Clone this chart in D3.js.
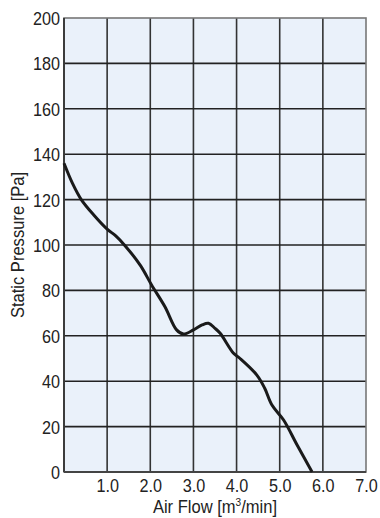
<!DOCTYPE html>
<html>
<head>
<meta charset="utf-8">
<script src="https://cdn.jsdelivr.net/npm/d3@7"></script>
<style>
  body { margin: 0; background: #fff; }
  text { font-family: "Liberation Sans", Arial, sans-serif; fill: #222; }
</style>
</head>
<body>
<svg id="chart"></svg>
<script>
// air flow [m3/min] vs static pressure [Pa]
var flow = [0, 0.2, 0.4, 0.7, 1.0, 1.2, 1.42, 1.77, 2.03, 2.34, 2.61, 2.77, 3.0, 3.2, 3.35, 3.5, 3.62, 3.93, 4.08, 4.47, 4.65, 4.82, 5.09, 5.4, 5.75];
var pressure = [136, 127, 120, 113, 107, 104, 99.6, 91, 82.4, 72.8, 62.6, 60.8, 62.6, 64.8, 65.5, 63.3, 61.1, 52.3, 50, 42.7, 37, 29.5, 22.9, 12, 0];
var xTicks = [1, 2, 3, 4, 5, 6, 7];
var yTicks = [0, 20, 40, 60, 80, 100, 120, 140, 160, 180, 200];

var width = 380, height = 518;
var plot = { left: 64, right: 366, top: 18, bottom: 472 };

var svg = d3.select("#chart").attr("width", width).attr("height", height);

var x = d3.scaleLinear().domain([0, 7]).range([plot.left, plot.right]);
var y = d3.scaleLinear().domain([0, 200]).range([plot.bottom, plot.top]);

//背景
svg.append("rect")
  .attr("x", plot.left).attr("y", plot.top)
  .attr("width", plot.right - plot.left).attr("height", plot.bottom - plot.top)
  .attr("fill", "#eaf1fa");

//网格
var grid = svg.append("g");
grid.selectAll("line.v").data(xTicks.filter(function (d) { return d < 7 })).enter()
  .append("line")
  .attr("x1", function (d) { return x(d) }).attr("x2", function (d) { return x(d) })
  .attr("y1", plot.top).attr("y2", plot.bottom)
  .attr("stroke", "#333").attr("stroke-width", 1.6);
grid.selectAll("line.h").data(yTicks.filter(function (d) { return d > 0 && d < 200 })).enter()
  .append("line")
  .attr("x1", plot.left).attr("x2", plot.right)
  .attr("y1", function (d) { return y(d) }).attr("y2", function (d) { return y(d) })
  .attr("stroke", "#222").attr("stroke-width", 1.6);

//边框
svg.append("rect")
  .attr("x", plot.left).attr("y", plot.top)
  .attr("width", plot.right - plot.left).attr("height", plot.bottom - plot.top)
  .attr("fill", "none").attr("stroke", "#777").attr("stroke-width", 1.6);
svg.append("line").attr("x1", plot.left).attr("x2", plot.left).attr("y1", plot.top).attr("y2", plot.bottom)
  .attr("stroke", "#333").attr("stroke-width", 1.8);
svg.append("line").attr("x1", plot.left).attr("x2", plot.right).attr("y1", plot.bottom).attr("y2", plot.bottom)
  .attr("stroke", "#444").attr("stroke-width", 1.8);

//刻度 (字体横向压缩一点)
var xAxis = d3.axisBottom(x).tickValues(xTicks).tickSize(0).tickPadding(0)
  .tickFormat(d3.format(".1f"));
var gx = svg.append("g").attr("transform", "translate(0," + plot.bottom + ")").call(xAxis);
gx.select(".domain").remove();
gx.selectAll("text").attr("dy", null).attr("y", 20).attr("transform", "scale(0.9,1)")
  .style("font-size", "18px").attr("fill", "#222");

var yAxis = d3.axisLeft(y).tickValues(yTicks).tickSize(0).tickPadding(4.4);
var gy = svg.append("g").attr("transform", "translate(" + plot.left + ",0)").call(yAxis);
gy.select(".domain").remove();
gy.selectAll("text").attr("dy", "0.36em").attr("transform", "scale(0.9,1)")
  .style("font-size", "18px").attr("fill", "#222");

//曲线
var line = d3.line()
  .x(function (d, i) { return x(flow[i]) })
  .y(function (d) { return y(d) })
  .curve(d3.curveCatmullRom.alpha(0.5));
svg.append("path")
  .datum(pressure)
  .attr("fill", "none")
  .attr("stroke", "#1a1a1a")
  .attr("stroke-width", 3)
  .attr("stroke-linejoin", "round")
  .attr("d", line);

//标题
var xt = svg.append("text")
  .attr("transform", "translate(" + (plot.left + plot.right) / 2 + ",513) scale(0.92,1)")
  .attr("text-anchor", "middle").style("font-size", "18px");
xt.append("tspan").text("Air Flow [m");
xt.append("tspan").attr("dy", -7).style("font-size", "11px").text("3");
xt.append("tspan").attr("dy", 7).text("/min]");

svg.append("text")
  .attr("transform", "translate(24," + (plot.top + plot.bottom) / 2 + ") rotate(-90) scale(0.92,1)")
  .attr("text-anchor", "middle").style("font-size", "18px")
  .text("Static Pressure [Pa]");
</script>
</body>
</html>
